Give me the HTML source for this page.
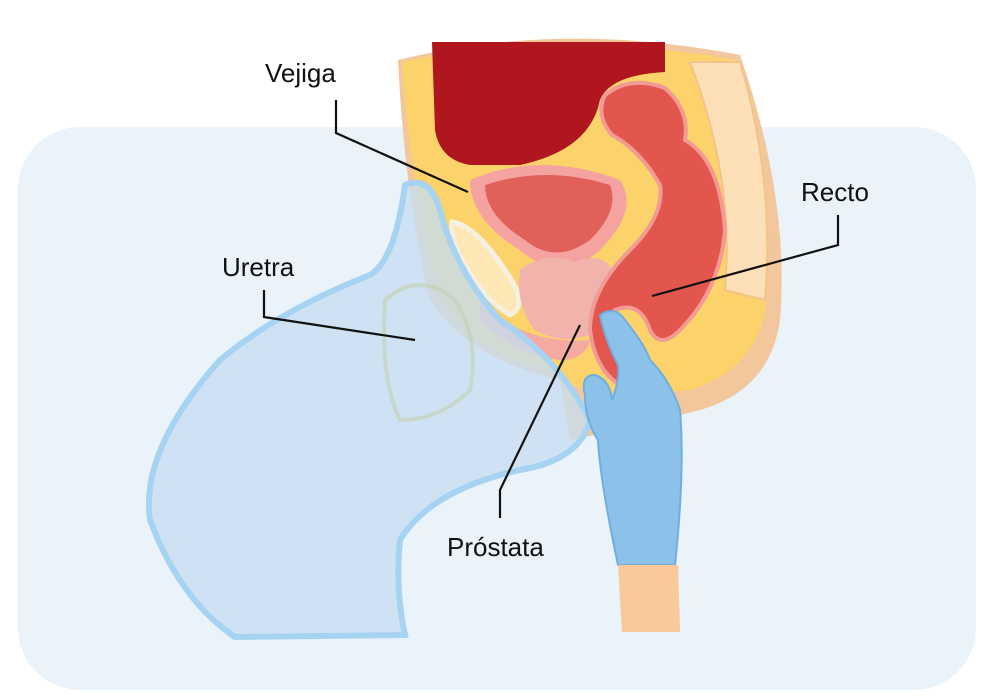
<!DOCTYPE html>
<html><head><meta charset="utf-8"><style>
html,body{margin:0;padding:0;background:#fff;}
svg{display:block;}
text{font-family:"Liberation Sans",sans-serif;font-size:26px;fill:#111;}
</style></head><body>
<svg width="995" height="700" viewBox="0 0 995 700" xmlns="http://www.w3.org/2000/svg">
<rect x="18" y="127" width="958" height="563" rx="62" fill="#eaf2fa"/>
<path d="M398,60 Q560,20 740,55 Q790,200 780,320 Q770,390 700,410 Q620,430 570,440 L560,380 Q470,360 430,300 Q405,200 398,60 Z" fill="#f1c79b"/>
<path d="M402,62 Q560,28 735,60 Q775,200 765,310 Q755,370 690,390 Q620,400 570,385 L550,370 Q470,350 440,295 Q412,200 402,62 Z" fill="#fbd36a"/>
<path d="M690,62 L740,62 Q775,180 765,300 L725,290 Q735,180 690,62 Z" fill="#fde0b8" stroke="#f2c48c" stroke-width="2"/>
<path d="M432,42 L665,42 L665,72 Q610,75 600,100 Q590,150 520,165 L470,165 Q440,160 435,130 Z" fill="#b0161e"/>
<path d="M470,180 Q540,150 620,180 Q640,210 600,250 Q560,285 520,250 Q470,220 470,180 Z" fill="#f4a3a0"/>
<path d="M485,185 Q545,165 610,185 Q620,210 590,240 Q555,265 525,240 Q485,215 485,185 Z" fill="#e0605a"/>
<path d="M452,222 Q475,225 505,270 Q530,305 510,315 Q485,300 465,265 Q450,240 452,222 Z" fill="#fde7b5" stroke="#f5f0e0" stroke-width="5"/>
<path d="M520,270 Q545,250 575,262 Q605,250 615,275 Q615,320 590,335 Q560,345 535,330 Q515,305 520,270 Z" fill="#f2b3ad"/>
<path d="M480,300 Q520,345 590,340 Q585,360 560,360 Q515,355 480,320 Z" fill="#f5a9a3"/>
<path d="M605,95 Q630,75 665,88 Q690,110 685,140 Q720,160 725,230 Q720,290 680,330 Q660,350 650,330 Q640,300 615,310 Q600,320 610,345 Q630,370 620,385 Q595,370 590,330 Q590,290 630,250 Q665,215 660,185 Q640,150 612,135 Q595,115 605,95 Z" fill="#e2564d" stroke="#f19b94" stroke-width="4"/>
<path d="M405,185 Q430,175 440,210 Q455,270 500,320 Q560,360 590,420 Q580,460 520,470 Q430,490 400,540 Q395,590 405,635 L235,637 Q180,600 150,520 Q140,450 220,360 Q280,310 370,275 Q395,260 405,185 Z" fill="#c6def1" fill-opacity="0.78" stroke="#a7d3f3" stroke-width="6"/>
<path d="M385,300 Q420,270 455,300 Q480,340 470,390 Q440,420 400,420 Q380,380 385,300 Z" fill="none" stroke="#c3d3b8" stroke-width="4" opacity="0.7"/>
<path d="M600,315 Q615,305 625,320 Q645,345 650,360 Q670,380 680,410 Q685,470 675,565 L618,565 Q600,480 598,440 Q585,420 585,395 Q580,375 595,375 Q610,380 612,400 Q620,380 618,365 Q605,340 600,315 Z" fill="#8cc2ea" stroke="#6faedf" stroke-width="2"/>
<path d="M618,565 L678,565 L680,632 L622,632 Z" fill="#f8c99a"/>
<g stroke="#111" stroke-width="2.2" fill="none">
<polyline points="336,100 336,133 468,192"/>
<polyline points="264,290 264,317 415,340"/>
<polyline points="838,215 838,245 652,296"/>
<polyline points="500,518 500,490 580,325"/>
</g>
<text x="265" y="82">Vejiga</text>
<text x="222" y="276">Uretra</text>
<text x="801" y="201">Recto</text>
<text x="447" y="556">Próstata</text>
</svg>
</body></html>
